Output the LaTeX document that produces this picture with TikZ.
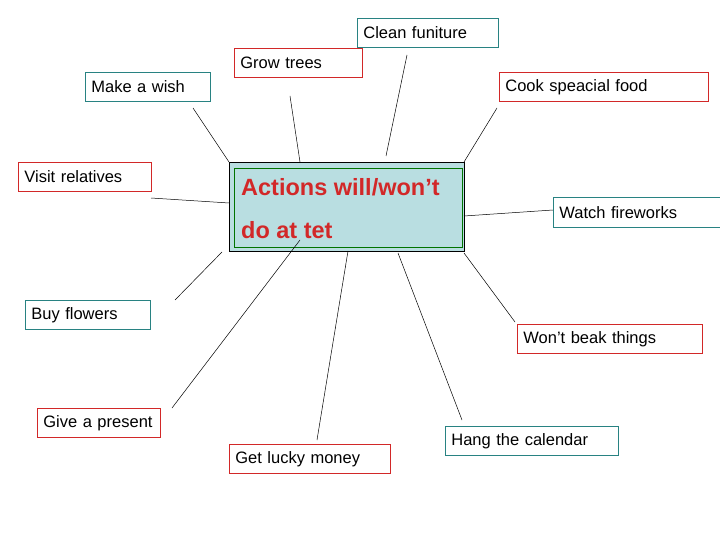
\documentclass[tikz,border=0pt]{standalone}
\usepackage{fontspec}
\setmainfont{Liberation Sans}
\begin{document}
\begin{tikzpicture}[x=1pt,y=-1pt,
  lab/.style={draw=#1,line width=0.8pt,fill=white,font=\fontsize{16.5}{20}\selectfont,anchor=north west,inner sep=0pt,align=left},
  ln/.style={line width=0.5pt}]
\definecolor{tealb}{RGB}{40,130,130}
\definecolor{redb}{RGB}{210,40,40}
\definecolor{cbg}{RGB}{185,222,225}
\useasboundingbox (0,0) rectangle (720,540);
\newcommand{\lbox}[7]{\node[lab=#6,minimum width=#4-#2,minimum height=#5-#3,text width=#4-#2-12pt,inner xsep=6pt] (#1) at (#2,#3) {\mbox{#7}};}
\lbox{clean}{357}{18}{498}{47}{tealb}{Clean funiture}
\lbox{grow}{234}{48}{362}{77}{redb}{Grow trees}
\lbox{wish}{85}{72}{210}{101}{tealb}{Make a wish}
\lbox{cook}{499}{72}{708}{101}{redb}{Cook speacial food}
\lbox{visit}{18}{162}{151}{191}{redb}{Visit relatives}
\lbox{watch}{553}{197}{720}{227}{tealb}{Watch fireworks}
\lbox{buy}{25}{300}{150}{329}{tealb}{Buy flowers}
\lbox{wont}{517}{324}{702}{353}{redb}{Won't beak things}
\lbox{give}{37}{408}{160}{437}{redb}{Give a present}
\lbox{money}{229}{444}{390}{473}{redb}{Get lucky money}
\lbox{hang}{445}{426}{618}{455}{tealb}{Hang the calendar}
\node[draw=black,line width=1pt,fill=cbg,anchor=north west,minimum width=235,minimum height=89,inner sep=0] (c) at (229,162) {};
\node[draw=green!45!black,line width=0.7pt,anchor=north west,minimum width=228,minimum height=79,inner sep=0] (ci) at (234,168) {};
\node[anchor=west,text=redb,font=\bfseries\fontsize{23.5}{28}\selectfont,inner sep=0] (t1) at (241,187) {Actions will/won’t};
\node[anchor=west,text=redb,font=\bfseries\fontsize{23.5}{28}\selectfont,inner sep=0] (t2) at (241,230) {do at tet};
\coordinate (a1) at (193,108); \coordinate (a2) at (290,96); \coordinate (a3) at (407,55);
\coordinate (a4) at (497,108); \coordinate (a5) at (151,198); \coordinate (a6) at (553,210);
\coordinate (a7) at (175,300); \coordinate (a8) at (515,322); \coordinate (a9) at (172,408);
\coordinate (a10) at (317,440); \coordinate (a11) at (462,420);
\coordinate (b1) at (229,162); \coordinate (b2) at (300,162); \coordinate (b3) at (386,156);
\coordinate (b4) at (464,162); \coordinate (b5) at (229,203); \coordinate (b6) at (464,216);
\coordinate (b7) at (222,252); \coordinate (b8) at (464,253); \coordinate (b9) at (300,240);
\coordinate (b10) at (348,251); \coordinate (b11) at (398,253);
\foreach \i in {1,...,11} \draw[ln] (a\i) -- (b\i);
\end{tikzpicture}
\end{document}
